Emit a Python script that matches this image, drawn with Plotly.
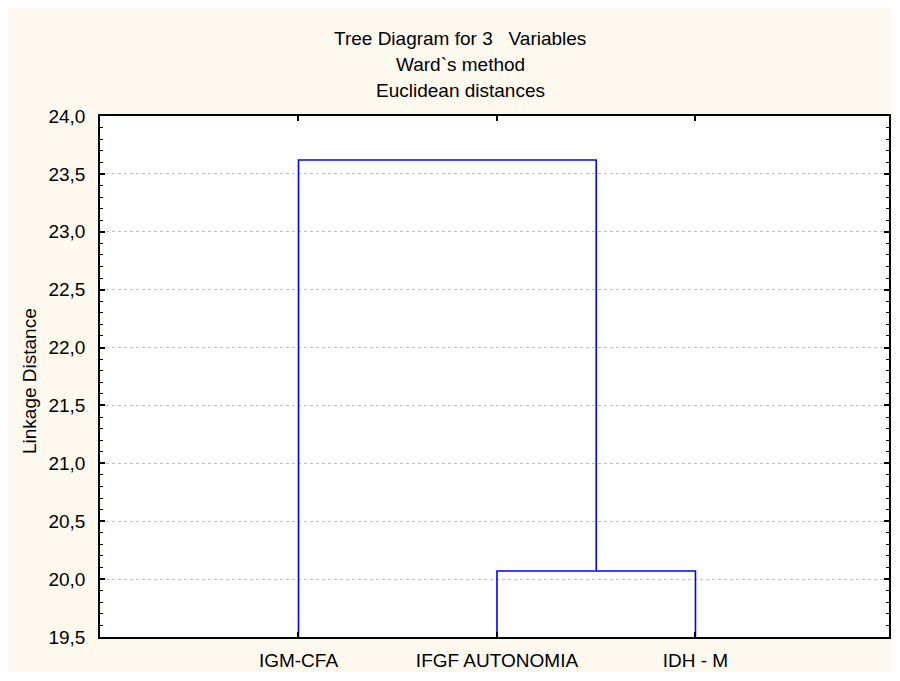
import plotly.graph_objects as go

# ---- data ----
leaf_labels = ["IGM-CFA", "IFGF AUTONOMIA", "IDH - M"]
leaf_positions = [1, 2, 3]
# merges: (left cluster id, right cluster id) ; ids 0..2 are leaves, new clusters get 3, 4, ...
merge_pairs = [(1, 2), (0, 3)]
merge_heights = [20.07, 23.62]
y_min, y_max = 19.5, 24.0
x_min, x_max = 0, 3.975
title_lines = ["Tree Diagram for 3\u00a0\u00a0\u00a0Variables", "Ward`s method", "Euclidean distances"]
y_title = "Linkage Distance"

# ---- build dendrogram segments from the linkage ----
pos = {i: p for i, p in enumerate(leaf_positions)}
hgt = {i: y_min for i in range(len(leaf_positions))}
xs, ys = [], []
for k, ((a, b), h) in enumerate(zip(merge_pairs, merge_heights)):
    xs += [pos[a], pos[a], pos[b], pos[b], None]
    ys += [hgt[a], h, h, hgt[b], None]
    new_id = len(leaf_positions) + k
    pos[new_id] = (pos[a] + pos[b]) / 2
    hgt[new_id] = h

fig = go.Figure()
fig.add_trace(go.Scatter(x=xs, y=ys, mode="lines",
                         line=dict(color="#0000ff", width=1.6),
                         hoverinfo="skip", showlegend=False))

FONT = "Liberation Sans, Arial, sans-serif"
fs = 19

FW, FH = 884, 664
# plot area px within figure
L, R, T, B = 92, 883, 107.5, 633.7
W, H = R - L, B - T

def px_x(x):
    return (x - L) / W

def px_y(y):
    return (B - y) / H

title_y_px = [29, 55, 82]
annotations = []
for txt, yp in zip(title_lines, title_y_px):
    annotations.append(dict(text=txt, xref="paper", yref="paper",
                            x=px_x(453), y=px_y(yp), xanchor="center", yanchor="middle",
                            showarrow=False, font=dict(family=FONT, size=fs, color="#000000")))
annotations.append(dict(text=y_title, xref="paper", yref="paper",
                        x=px_x(22), y=px_y(375), xanchor="center", yanchor="middle",
                        textangle=-90, showarrow=False,
                        font=dict(family=FONT, size=fs, color="#000000")))

fig.update_layout(
    width=FW, height=FH,
    margin=dict(l=L, r=FW - R, t=T, b=FH - B, pad=0),
    paper_bgcolor="#fdf9ef", plot_bgcolor="#ffffff",
    separators=",.",
    font=dict(family=FONT, size=fs, color="#000000"),
    annotations=annotations,
    showlegend=False,
)
fig.update_xaxes(range=[x_min, x_max], tickvals=leaf_positions, ticktext=leaf_labels,
                 showgrid=False, zeroline=False, showline=True, linecolor="#000000",
                 linewidth=1.5, mirror="ticks", ticks="inside", ticklen=5, tickwidth=1.5,
                 tickcolor="#000000", ticklabelstandoff=5,
                 tickfont=dict(family=FONT, size=fs, color="#000000"))
fig.update_yaxes(range=[y_min, y_max], dtick=0.5, tick0=19.5, tickformat=".1f",
                 showgrid=True, gridcolor="#c0c0c0", griddash="dot", gridwidth=1,
                 zeroline=False, showline=True, linecolor="#000000", linewidth=1.5,
                 mirror="ticks", ticks="inside", ticklen=5, tickwidth=1.5, tickcolor="#000000",
                 ticklabelstandoff=9,
                 minor=dict(dtick=0.1, ticks="inside", ticklen=3, tickwidth=1,
                            tickcolor="#000000", showgrid=False),
                 tickfont=dict(family=FONT, size=fs, color="#000000"))

fig.write_html("out.html")
